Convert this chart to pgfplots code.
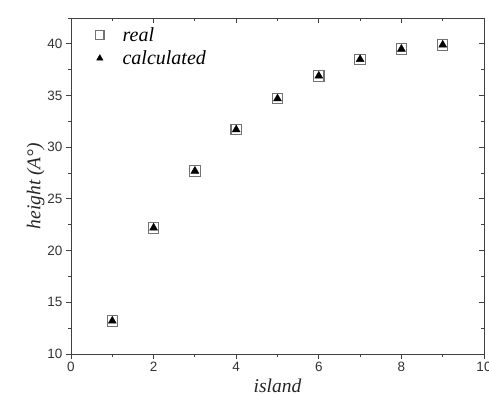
\documentclass[border=0pt]{standalone}
\usepackage{pgfplots}
\pgfplotsset{compat=1.18}
\usetikzlibrary{calc}
\usepackage{fontspec}
\setmainfont{Liberation Serif}
\newfontfamily\tickfont{Liberation Sans}
\begin{document}
\begin{tikzpicture}
\pgfplotsset{common/.style={
  scale only axis, width=413pt, height=336pt,
  xmin=0, xmax=10, ymin=10, ymax=42.5,
  xtick={0,2,...,10}, ytick={10,15,...,40},
  minor xtick={1,3,...,9}, minor ytick={12.5,17.5,...,42.5},
  axis line style={line width=0.9pt, black!75},
  major tick length=5pt, minor tick length=3pt,
  every tick/.style={line width=0.9pt, black!75},
}}
\begin{axis}[common,
  xtick pos=bottom, ytick pos=left, tick align=outside,
  /pgf/number format/assume math mode=true,
  ticklabel style={font=\tickfont\fontsize{13.5}{13.5}\selectfont, black!80},
  xlabel={\itshape island}, ylabel={\itshape height (A\textdegree)},
  label style={font=\fontsize{19.5}{19.5}\selectfont, black!85},
  xlabel style={yshift=0pt},
  ylabel style={yshift=-4pt},
  legend style={draw=none, fill=none, at={(0.04,0.985)}, anchor=north west,
    font=\itshape\fontsize{20}{24}\selectfont, row sep=4pt,
    legend cell align=left},
  legend image code/.code={\path[draw=none,fill=none] (0cm,0cm) -- (1.05cm,0cm); \draw[#1, scale=0.8] (0.4cm,0cm) -- plot coordinates {(0.4cm,0cm)};},
]
\addplot[only marks, mark=square, mark size=5.2pt, mark options={draw=black!55, line width=1.1pt}]
 coordinates {(1,13.2) (2,22.2) (3,27.7) (4,31.7) (5,34.7) (6,36.9) (7,38.5) (8,39.5) (9,39.9)};
\addlegendentry{real}
\addplot[only marks, mark=triangle*, mark size=4.6pt, mark options={draw=black, fill=black}]
 coordinates {(1,13.2) (2,22.2) (3,27.7) (4,31.7) (5,34.7) (6,36.9) (7,38.5) (8,39.5) (9,39.9)};
\addlegendentry{calculated}
\end{axis}
\begin{axis}[common,
  xtick pos=top, ytick pos=right, tick align=inside,
  xticklabels={}, yticklabels={}, axis line style={draw=none}]
\end{axis}
\pgfresetboundingbox
\path[use as bounding box] ($(current axis.south west)+(-71pt,-40pt)$) rectangle ($(current axis.north east)+(5pt,18pt)$);
\end{tikzpicture}
\end{document}
